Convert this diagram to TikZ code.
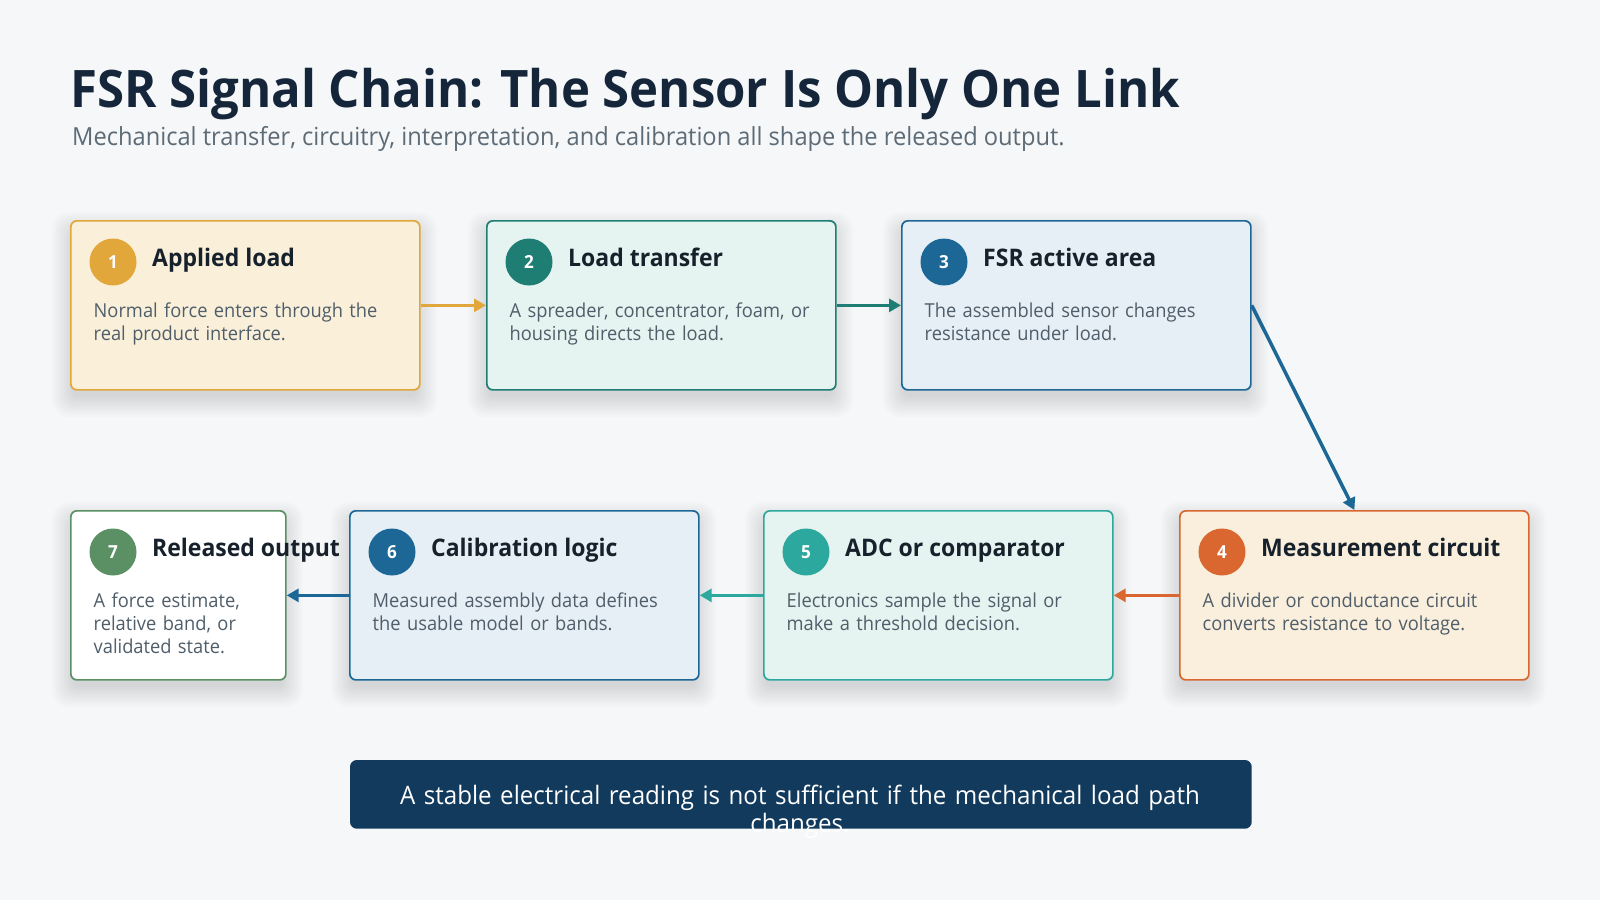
\documentclass[tikz,border=0pt]{standalone}
\usepackage{fontspec}
\setmainfont{Open Sans}[FakeStretch=0.95]
\usetikzlibrary{arrows.meta}

\definecolor{bg}{HTML}{F5F7F9}
\definecolor{ink}{HTML}{15253A}
\definecolor{dark}{HTML}{17212B}
\definecolor{greyline}{HTML}{5D6B76}
\definecolor{slate}{HTML}{4F5E6A}
\definecolor{gold}{HTML}{E2A73A}
\definecolor{goldbg}{HTML}{FAF0DA}
\definecolor{teal}{HTML}{1E7E74}
\definecolor{mint}{HTML}{E5F4F0}
\definecolor{blue}{HTML}{1D6797}
\definecolor{sky}{HTML}{E6EFF5}
\definecolor{orange}{HTML}{D9672F}
\definecolor{cream}{HTML}{FAEFDC}
\definecolor{aqua}{HTML}{2DA89E}
\definecolor{green}{HTML}{5A9063}
\definecolor{navy}{HTML}{123A5C}

\begin{document}
\begin{tikzpicture}[x=1pt,y=-1pt,
    card/.style={rounded corners=6pt, line width=1.7pt, anchor=north west, inner sep=0pt, minimum height=169pt},
    haze/.style={fill=black, fill opacity=0.011},
    badge/.style={circle, fill=#1, minimum size=47pt, inner sep=0pt, text=white,
        font=\fontsize{18}{20}\selectfont\bfseries},
    head/.style={anchor=base west, inner sep=0pt, text=dark, font=\fontsize{24.2}{28}\selectfont\bfseries},
    body/.style={anchor=base west, inner sep=0pt, align=left, text=slate, font=\fontsize{19.25}{23}\selectfont},
    link/.style={line width=3.5pt, draw=#1, -{Triangle[length=12pt,width=13pt]}}]
\fill[bg] (0,0) rectangle (1600,900);
\useasboundingbox (0,0) rectangle (1600,900);
\node[anchor=base west, inner sep=0pt, text=ink, font=\fontsize{51.7}{60}\selectfont\bfseries] (title) at (70,107)
    {FSR Signal Chain: The Sensor Is Only One Link};
\node[anchor=base west, inner sep=0pt, text=greyline, font=\fontsize{24.9}{30}\selectfont] (subtitle) at (72,145)
    {Mechanical transfer, circuitry, interpretation, and calibration all shape the released output.};
\foreach \id/\x/\y/\w/\col/\tint/\head/\txt in {
    1/70/220/349/gold/goldbg/{Applied load}/{Normal force enters through the\\real product interface.},
    2/486/220/349/teal/mint/{Load transfer}/{A spreader, concentrator, foam, or\\housing directs the load.},
    3/901/220/349/blue/sky/{FSR active area}/{The assembled sensor changes\\resistance under load.},
    4/1179/510/349/orange/cream/{Measurement circuit}/{A divider or conductance circuit\\converts resistance to voltage.},
    5/763/510/349/aqua/mint/{ADC or comparator}/{Electronics sample the signal or\\make a threshold decision.},
    6/349/510/349/blue/sky/{Calibration logic}/{Measured assembly data defines\\the usable model or bands.},
    7/70/510/215/green/white/{Released output}/{A force estimate,\\relative band, or\\validated state.}}
{
    \foreach \s in {1,...,11}
        \fill[haze, rounded corners={6+\s}] ({\x-2*\s+4},{\y-2*\s+14}) rectangle ++({\w+4*\s-8},{169+4*\s-8});
    \node[card, draw=\col, fill=\tint, minimum width=\w pt] (box\id) at (\x,\y) {};
    \node[badge=\col] (num\id) at ([shift={(43,42)}]box\id.north west) {\id};
    \node[head] (head\id) at ([shift={(82,46)}]box\id.north west) {\head};
    \node[body, text width=\w pt-30pt] (txt\id) at ([shift={(23.5,97)}]box\id.north west) {\txt};
}
\draw[link=gold] (box1.east) -- (box2.west);
\draw[link=teal] (box2.east) -- (box3.west);
\draw[link=blue] (box3.east) -- (box4.north);
\draw[link=orange] (box4.west) -- (box5.east);
\draw[link=aqua] (box5.west) -- (box6.east);
\draw[link=blue] (box6.west) -- (box7.east);
\node[card, fill=navy, draw=navy, minimum width=900pt, minimum height=67pt] (note) at (350,760) {};
\node[anchor=base, inner sep=0pt, align=center, text width=900pt, text=white, font=\fontsize{25.4}{28}\selectfont] (notetxt) at (800,804)
    {A stable electrical reading is not sufficient if the mechanical load path\\changes.};
\end{tikzpicture}
\end{document}
